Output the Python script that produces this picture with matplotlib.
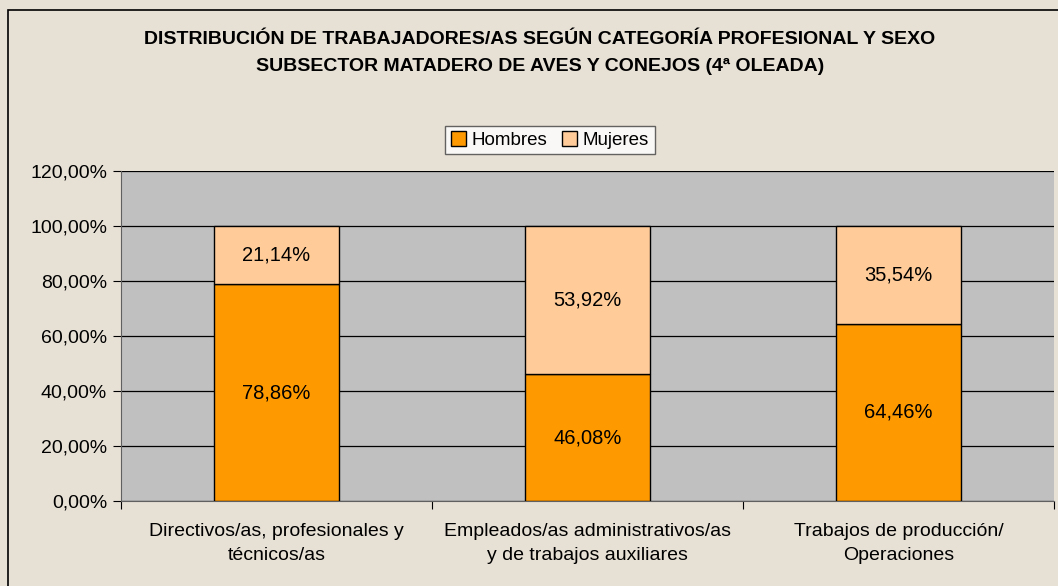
import matplotlib.pyplot as plt
from matplotlib.patches import Rectangle
from matplotlib.ticker import FuncFormatter

plt.rcParams['font.family'] = ['Liberation Sans', 'DejaVu Sans']

categories = [
    "Directivos/as, profesionales y\ntécnicos/as",
    "Empleados/as administrativos/as\ny de trabajos auxiliares",
    "Trabajos de producción/\nOperaciones",
]
hombres = [78.86, 46.08, 64.46]
mujeres = [21.14, 53.92, 35.54]
series_names = ["Hombres", "Mujeres"]
yticks = [0, 20, 40, 60, 80, 100, 120]

W, H = 1058, 586
fig = plt.figure(figsize=(W / 100, H / 100), dpi=100)
fig.patch.set_facecolor("#E7E0D5")

# outer chart border
fig.patches.append(Rectangle((8 / W, -0.1), 1.2, 1 - 10 / H + 0.1,
                             transform=fig.transFigure, fill=False,
                             edgecolor="black", linewidth=1.2))

ax = fig.add_axes([121 / W, 1 - 501 / H, (1054 - 121) / W, (501 - 171) / H])
ax.set_facecolor("#C0C0C0")

x = range(len(categories))
b1 = ax.bar(x, hombres, width=0.4, color="#FF9900", edgecolor="black",
            linewidth=1, label=series_names[0], zorder=3)
b2 = ax.bar(x, mujeres, width=0.4, bottom=hombres, color="#FFCC99",
            edgecolor="black", linewidth=1, label=series_names[1], zorder=3)

fmt = lambda v: f"{v:.2f}".replace(".", ",") + "%"
for i in x:
    ax.text(i, hombres[i] / 2, fmt(hombres[i]), ha="center", va="center",
            fontsize=14.5, zorder=4)
    ax.text(i, hombres[i] + mujeres[i] / 2, fmt(mujeres[i]), ha="center",
            va="center", fontsize=14.5, zorder=4)

ax.set_xlim(-0.5, 2.5)
ax.set_ylim(0, 120)
ax.set_yticks(yticks)
ax.yaxis.set_major_formatter(FuncFormatter(lambda v, p: fmt(v)))
ax.set_xticks([-0.5, 0.5, 1.5, 2.5], minor=False)
ax.set_xticklabels([])
ax.set_xticks(list(x), minor=True)
ax.set_xticklabels(categories, minor=True, fontsize=14, linespacing=1.55)
ax.tick_params(axis="x", which="minor", length=0, pad=16)
ax.tick_params(axis="x", which="major", length=6, direction="out")
ax.tick_params(axis="y", length=6, labelsize=14, pad=4)
ax.grid(axis="y", color="black", linewidth=0.9, zorder=1)
for s in ["top", "right"]:
    ax.spines[s].set_visible(False)
for s in ["left", "bottom"]:
    ax.spines[s].set_color("#606060")

leg = fig.legend(handles=[b1, b2], labels=series_names, loc="center",
                 bbox_to_anchor=(550 / W, 1 - 140 / H), ncol=2,
                 frameon=True, fancybox=False, fontsize=13.5,
                 handlelength=0.8, handleheight=0.8, handletextpad=0.3,
                 columnspacing=0.8, borderpad=0.3, edgecolor="#404040")
leg.get_frame().set_linewidth(1)

fig.text(540 / W, 1 - 40 / H,
         "DISTRIBUCIÓN DE TRABAJADORES/AS SEGÚN CATEGORÍA PROFESIONAL Y SEXO",
         ha="center", va="center", fontsize=14, fontweight="bold")
fig.text(540 / W, 1 - 66 / H,
         "SUBSECTOR MATADERO DE AVES Y CONEJOS (4ª OLEADA)",
         ha="center", va="center", fontsize=14, fontweight="bold")

fig.savefig("out.png", dpi=100, facecolor=fig.get_facecolor())
